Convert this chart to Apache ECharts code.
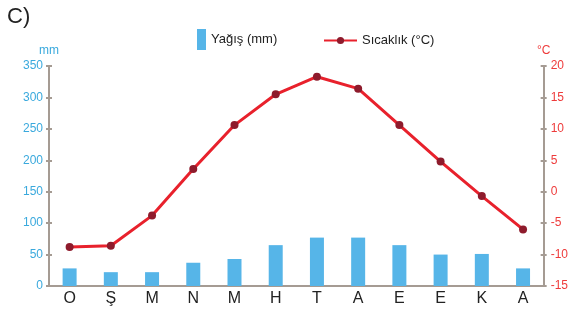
<!DOCTYPE html>
<html>
<head>
<meta charset="utf-8">
<script src="https://cdn.jsdelivr.net/npm/echarts@6/dist/echarts.min.js"></script>
<style>
  html, body { margin: 0; padding: 0; background: #fff; }
  #chart { width: 571px; height: 310px; }
</style>
</head>
<body>
<div id="chart"></div>
<script>
// aylar
const months = ['O', 'Ş', 'M', 'N', 'M', 'H', 'T', 'A', 'E', 'E', 'K', 'A']
// yağış (mm)
const rain = [28, 22, 22, 37, 43, 65, 77, 77, 65, 50, 51, 28]
// sıcaklık (°C)
const temp = [-8.8, -8.6, -3.8, 3.6, 10.6, 15.5, 18.3, 16.4, 10.6, 4.8, -0.7, -6.0]

const axisColor = '#a59b93'
const blue = '#3aa9dd'
const red = '#ee3b3b'
const font = 'Liberation Sans, Arial, sans-serif'

const chart = echarts.init(document.getElementById('chart'))

// eksen çizgisinin iki yanına taşan çentikler için ikinci eksenler
const crossY = (pos, min, max, interval) => ({
  type: 'value', position: pos, min, max, interval,
  axisLine: { show: false },
  axisTick: { show: true, inside: true, length: 3, lineStyle: { color: axisColor, width: 2 } },
  axisLabel: { show: false },
  splitLine: { show: false }
})

chart.setOption({
  animation: false,
  textStyle: { fontFamily: font },
  grid: { left: 49, right: 25, top: 66, bottom: 24 },
  graphic: [{
    type: 'text', left: 7, top: 6,
    style: { text: 'C)', fontSize: 22, fill: '#222', fontFamily: font }
  }],
  legend: [{
    data: ['Yağış (mm)'],
    left: 192, top: 24,
    icon: 'rect', itemWidth: 9, itemHeight: 21, itemStyle: { color: '#56b5e8' },
    textStyle: { fontSize: 13, color: '#222', fontFamily: font }
  }, {
    data: ['Sıcaklık (°C)'],
    left: 318, top: 29,
    itemWidth: 33, itemHeight: 9,
    textStyle: { fontSize: 13, color: '#222', fontFamily: font }
  }],
  xAxis: [{
    type: 'category', data: months,
    axisLine: { lineStyle: { color: axisColor, width: 2 } },
    axisTick: { length: 3, lineStyle: { color: axisColor, width: 2 } },
    axisLabel: { interval: 0, fontSize: 16, color: '#222', margin: 5 }
  }, {
    type: 'category', data: months, position: 'bottom',
    axisLine: { show: false },
    axisTick: { inside: true, length: 4, lineStyle: { color: axisColor, width: 2 } },
    axisLabel: { show: false }
  }],
  yAxis: [{
    type: 'value', min: 0, max: 350, interval: 50,
    name: 'mm', nameLocation: 'end', nameGap: 9,
    nameTextStyle: { color: blue, fontSize: 12, align: 'center' },
    axisLine: { show: true, lineStyle: { color: axisColor, width: 2 } },
    axisTick: { show: true, length: 3, lineStyle: { color: axisColor, width: 2 } },
    axisLabel: { color: blue, fontSize: 12, margin: 6 },
    splitLine: { show: false }
  }, {
    type: 'value', min: -15, max: 20, interval: 5, position: 'right',
    name: '°C', nameLocation: 'end', nameGap: 9,
    nameTextStyle: { color: red, fontSize: 12, align: 'center' },
    axisLine: { show: true, lineStyle: { color: axisColor, width: 2 } },
    axisTick: { show: true, length: 3, lineStyle: { color: axisColor, width: 2 } },
    axisLabel: { color: red, fontSize: 12, margin: 7 },
    splitLine: { show: false }
  },
  crossY('left', 0, 350, 50),
  crossY('right', -15, 20, 5)],
  series: [{
    name: 'Yağış (mm)', type: 'bar', data: rain,
    barWidth: 14, itemStyle: { color: '#56b5e8' }
  }, {
    name: 'Sıcaklık (°C)', type: 'line', data: temp, yAxisIndex: 1,
    symbol: 'circle', symbolSize: 8,
    lineStyle: { color: '#e8212c', width: 3 },
    itemStyle: { color: '#8e1b2c' }
  }]
})
</script>
</body>
</html>
